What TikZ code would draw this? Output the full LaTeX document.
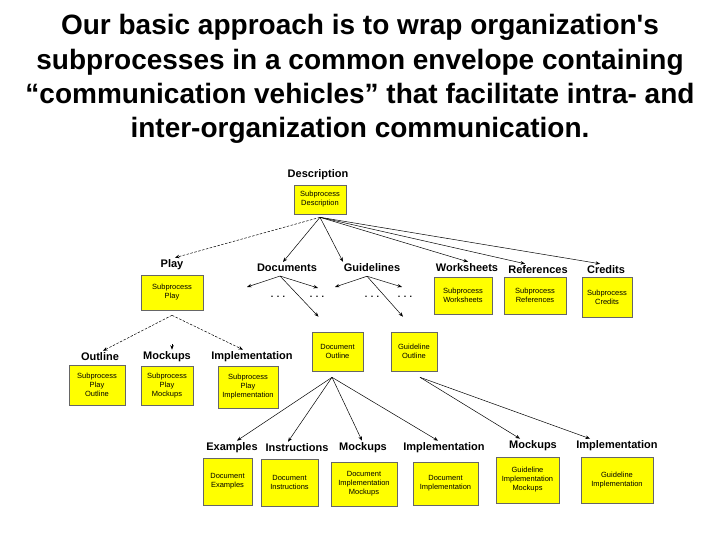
\documentclass[tikz,border=0pt]{standalone}
\usepackage{fontspec}
\setmainfont{Liberation Sans}
\usetikzlibrary{arrows.meta}
\definecolor{boxyellow}{RGB}{255,255,0}
\tikzset{
  x=1pt,y=-1pt,
  title/.style={font=\fontsize{28}{34.2}\selectfont\bfseries,align=center,inner sep=0},
  lbl/.style={font=\fontsize{11}{12}\selectfont\bfseries,inner sep=2pt},
  ybox/.style={draw=black!60,line width=0.6pt,fill=boxyellow,align=center,inner sep=0,
    font=\fontsize{7.5}{9}\selectfont},
  dots/.style={font=\fontsize{9}{10}\selectfont\bfseries,inner sep=0},
  arr/.style={-{Stealth[length=4.5pt,width=3.5pt]},line width=0.5pt},
  darr/.style={arr,dashed,dash pattern=on 2.5pt off 1.5pt},
}
\begin{document}
\begin{tikzpicture}
\path[fill=white,use as bounding box] (0,0) rectangle (720,540);
\node[title] (title) at (360,79) {Our basic approach is to wrap organization\textquotesingle s\\subprocesses in a common envelope containing\\“communication vehicles” that facilitate intra- and\\inter-organization communication.};
% labels
\node[lbl] (desc) at (318,175) {Description};
\node[lbl] (play) at (172,265) {Play};
\node[lbl] (docs) at (287,268) {Documents};
\node[lbl] (guide) at (372,268) {Guidelines};
\node[lbl] (works) at (467,268) {Worksheets};
\node[lbl] (refs) at (538,270) {References};
\node[lbl] (cred) at (606,270) {Credits};
\node[lbl] (outline) at (100,357) {Outline};
\node[lbl] (mockA) at (167,357) {Mockups};
\node[lbl] (implA) at (252,357) {Implementation};
\node[lbl] (ex) at (232,448) {Examples};
\node[lbl] (instr) at (297,448) {Instructions};
\node[lbl] (mockB) at (363,448) {Mockups};
\node[lbl] (implB) at (444,448) {Implementation};
\node[lbl] (mockC) at (533,446) {Mockups};
\node[lbl] (implC) at (617,446) {Implementation};
% boxes
\node[ybox,minimum width=52,minimum height=29] (descbox) at (320,199.5) {Subprocess\\Description};
\node[ybox,minimum width=62,minimum height=35] (playbox) at (172,292.5) {Subprocess\\Play};
\node[ybox,minimum width=58,minimum height=37] (worksbox) at (463,295.5) {Subprocess\\Worksheets};
\node[ybox,minimum width=62,minimum height=37] (refsbox) at (535,295.5) {Subprocess\\References};
\node[ybox,minimum width=50,minimum height=40] (credbox) at (607,297) {Subprocess\\Credits};
\node[ybox,minimum width=51,minimum height=39] (docoutbox) at (337.5,351.5) {Document\\Outline};
\node[ybox,minimum width=46,minimum height=39] (guioutbox) at (414,351.5) {Guideline\\Outline};
\node[ybox,minimum width=56,minimum height=40] (outlinebox) at (97,385) {Subprocess\\Play\\Outline};
\node[ybox,minimum width=52,minimum height=39] (mockAbox) at (167,385.5) {Subprocess\\Play\\Mockups};
\node[ybox,minimum width=60,minimum height=42] (implAbox) at (248,387) {Subprocess\\Play\\Implementation};
\node[ybox,minimum width=49,minimum height=47] (exbox) at (227.5,481.5) {Document\\Examples};
\node[ybox,minimum width=57,minimum height=47] (instrbox) at (289.5,482.5) {Document\\Instructions};
\node[ybox,minimum width=66,minimum height=44] (mockBbox) at (364,484) {Document\\Implementation\\Mockups};
\node[ybox,minimum width=65,minimum height=43] (implBbox) at (445.5,483.5) {Document\\Implementation};
\node[ybox,minimum width=63,minimum height=46] (mockCbox) at (527.5,480) {Guideline\\Implementation\\Mockups};
\node[ybox,minimum width=72,minimum height=46] (implCbox) at (617,480) {Guideline\\Implementation};
% dots
\node[dots] (d1) at (278,297) {. . .};
\node[dots] (d2) at (317,297) {. . .};
\node[dots] (d3) at (372,297) {. . .};
\node[dots] (d4) at (405,297) {. . .};
\coordinate (dl) at (247,287);
\coordinate (dr) at (318,288);
\coordinate (gl) at (335,287);
\coordinate (gr) at (402,287);
\coordinate (mockAtop) at (172,344);
% description fan
\coordinate (ds) at ([yshift=-3pt]descbox.south);
\draw[darr] (ds) -- ([xshift=3pt]play.north);
\draw[arr] (ds) -- ([xshift=-4pt]docs.north);
\draw[arr] (ds) -- ([xshift=-29pt]guide.north);
\draw[arr] (ds) -- ([xshift=1pt]works.north);
\draw[arr] (ds) -- ([xshift=-13pt]refs.north);
\draw[arr] (ds) -- ([xshift=-6pt]cred.north);
% documents
\coordinate (dcs) at ([xshift=-7pt,yshift=-2pt]docs.south);
\draw[arr] (dcs) -- (dl);
\draw[arr] (dcs) -- (dr);
\draw[arr] (dcs) -- ([xshift=-19pt,yshift=15pt]docoutbox.north);
% guidelines
\coordinate (gcs) at ([xshift=-5pt,yshift=-2pt]guide.south);
\draw[arr] (gcs) -- (gl);
\draw[arr] (gcs) -- (gr);
\draw[arr] (gcs) -- ([xshift=-11pt,yshift=15pt]guioutbox.north);
% play children
\coordinate (ps) at ([yshift=-5pt]playbox.south);
\draw[darr] (ps) -- ([xshift=3pt]outline.north);
\draw[arr] (mockAtop) -- ([xshift=5pt]mockA.north);
\draw[darr] (ps) -- ([xshift=-9pt]implA.north);
% document outline children
\coordinate (dos) at ([xshift=-5.5pt,yshift=-6pt]docoutbox.south);
\draw[arr] (dos) -- ([xshift=5pt]ex.north);
\draw[arr] (dos) -- ([xshift=-9pt]instr.north);
\draw[arr] (dos) -- ([xshift=-1pt]mockB.north);
\draw[arr] (dos) -- ([xshift=-6pt]implB.north);
% guideline outline children
\coordinate (gos) at ([xshift=6pt,yshift=-6pt]guioutbox.south);
\draw[arr] (gos) -- ([xshift=-13pt]mockC.north);
\draw[arr] (gos) -- ([xshift=-27pt]implC.north);
\end{tikzpicture}
\end{document}
